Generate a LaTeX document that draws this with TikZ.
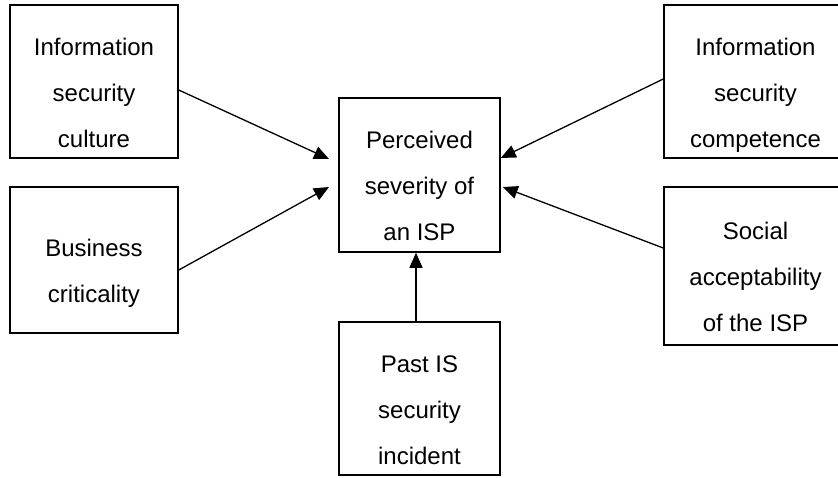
\documentclass[tikz,border=0pt]{standalone}
\usepackage{fontspec}
\setmainfont{Liberation Sans}
\usetikzlibrary{arrows.meta}
\tikzset{
  box/.style={draw=black, line width=1.5pt, rectangle, inner sep=0pt},
  txt/.style={align=center, font=\fontsize{24}{46}\selectfont, inner sep=0pt},
  conn/.style={line width=1.3pt, -{Triangle[length=15pt,width=13pt]}}
}
\begin{document}
\begin{tikzpicture}[x=1pt,y=-1pt]
\useasboundingbox (0,0) rectangle (838,477);
\clip (0,0) rectangle (838,477);
% boxes
\node[box, minimum width=168pt, minimum height=153pt] (tl) at (94,81.5) {};
\node[box, minimum width=168pt, minimum height=146pt] (bl) at (94,260) {};
\node[box, minimum width=161pt, minimum height=154pt] (c) at (419.5,175) {};
\node[box, minimum width=183pt, minimum height=153pt] (tr) at (755.5,81.5) {};
\node[box, minimum width=183pt, minimum height=158pt] (sr) at (755.5,266) {};
\node[box, minimum width=161pt, minimum height=153pt] (b) at (419.5,398.5) {};
% texts
\node[txt] (tlt) at ([yshift=-11pt]tl.center) {\strut Information\\\strut security\\\strut culture};
\node[txt] (blt) at ([yshift=-10pt]bl.center) {\strut Business\\\strut criticality};
\node[txt] (ct) at ([yshift=-10.5pt]c.center) {\strut Perceived\\\strut severity of\\\strut an ISP};
\node[txt] (trt) at ([yshift=-11pt]tr.center) {\strut Information\\\strut security\\\strut competence};
\node[txt] (srt) at ([yshift=-10pt]sr.center) {\strut Social\\\strut acceptability\\\strut of the ISP};
\node[txt] (bt) at ([yshift=-11pt]b.center) {\strut Past IS\\\strut security\\\strut incident};
% arrow tips in front of the centre box
\coordinate (inTL) at (329,159);
\coordinate (inBL) at (329,187);
% connectors
\draw[conn] ([yshift=-8.5pt]tl.east) -- (inTL);
\draw[conn] ([yshift=-10pt]bl.east) -- (inBL);
\draw[conn] ([yshift=2.5pt]tr.west) -- ([yshift=17pt]c.east);
\draw[conn] ([yshift=18pt]sr.west) -- ([yshift=-12pt,xshift=2pt]c.east);
\draw[conn] ([xshift=-3.5pt]b.north) -- ([xshift=-3.5pt]c.south);
\end{tikzpicture}
\end{document}
